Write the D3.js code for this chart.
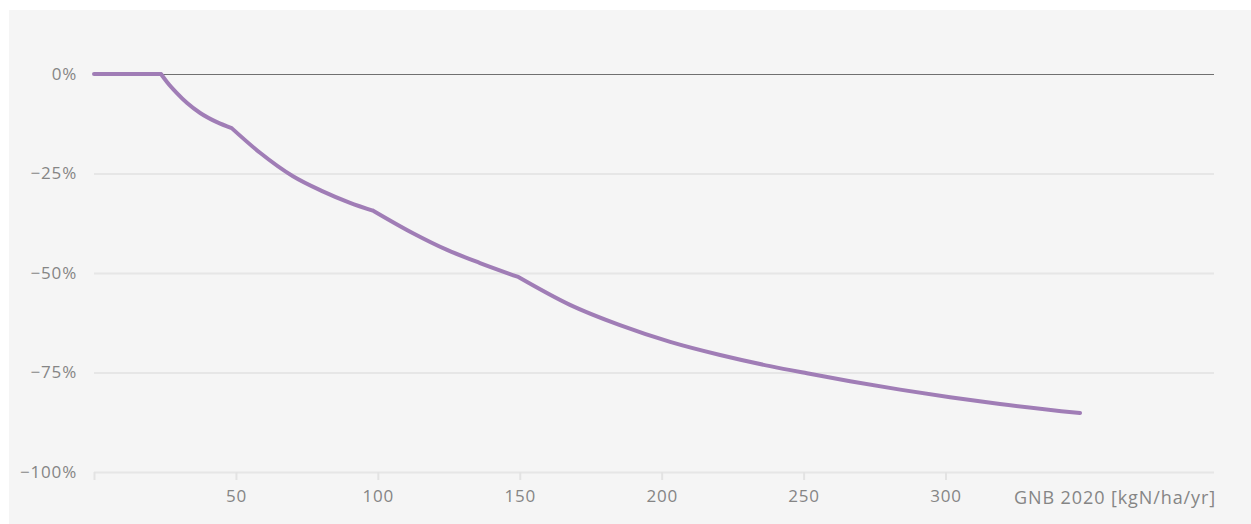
<!DOCTYPE html>
<html>
<head>
<meta charset="utf-8">
<script src="https://cdn.jsdelivr.net/npm/d3@7"></script>
<style>
  body { margin: 0; background: #fff; }
  svg { display: block; }
</style>
</head>
<body>
<svg id="chart"></svg>
<script>
// values (GNB 2020 in kgN/ha/yr, change as fraction)
const gnb = [0, 23.6, 25.7, 29.2, 32.8, 37.4, 43.3, 48.5, 58.5, 70.1, 80, 90, 98.5,
  112.4, 124.4, 136.0, 149.5, 167.7, 185.3, 203.0, 220.6, 238.2, 251.2,
  266.4, 284.0, 301.6, 319.2, 347.4];
const change = [0, 0, -0.020, -0.048, -0.073, -0.098, -0.121, -0.136, -0.198, -0.257, -0.293, -0.323, -0.344,
  -0.400, -0.442, -0.475, -0.51, -0.580, -0.631, -0.673, -0.706, -0.734, -0.752,
  -0.772, -0.793, -0.812, -0.829, -0.852];
// GNB values where the curve bends sharply
const kinks = [23.6, 48.5, 98.5, 149.5];
const yTicks = [0, -0.25, -0.5, -0.75, -1];
const xTicks = [0, 50, 100, 150, 200, 250, 300];
const xTitle = "GNB 2020 [kgN/ha/yr]";

function drawChart(selector, svgWidth, svgHeight) {
    let svg = d3.select(selector)
        .attr("width", svgWidth)
        .attr("height", svgHeight);

    //grey panel behind the chart
    svg.append("rect")
        .attr("x", 9).attr("y", 10)
        .attr("width", svgWidth - 9).attr("height", svgHeight - 10)
        .attr("fill", "#f5f5f5");

    let margin = { top: 74, right: 37, bottom: 52, left: 94 };
    let innerWidth = svgWidth - margin.left - margin.right;
    let innerHeight = svgHeight - margin.top - margin.bottom;

    let xScale = d3.scaleLinear()
        .domain([0, 394.6])
        .range([0, innerWidth]);

    let yScale = d3.scaleLinear()
        .domain([-1, 0])
        .range([innerHeight, 0]);

    let g = svg.append("g")
        .attr("transform", `translate(${margin.left},${margin.top})`);

    let font = "'Open Sans', sans-serif";
    let textColor = "#858585";

    //horizontal grid lines with labels on the left
    let yAxis = g.append("g")
        .call(d3.axisLeft(yScale).tickValues(yTicks)
            .tickFormat(d => (d < 0 ? "\u2212" : "") + Math.abs(Math.round(d * 100)) + "%")
            .tickSize(-innerWidth).tickPadding(17));
    yAxis.select(".domain").remove();
    yAxis.selectAll(".tick line")
        .attr("stroke", d => d === 0 ? "#707070" : "#e6e6e6")
        .attr("stroke-width", d => d === 0 ? 1 : 2);
    yAxis.selectAll(".tick text")
        .attr("fill", textColor)
        .attr("font-size", "17px")
        .attr("letter-spacing", "0.8px")
        .attr("font-family", font);

    //bottom axis
    let xAxis = g.append("g")
        .attr("transform", `translate(0,${innerHeight})`)
        .call(d3.axisBottom(xScale).tickValues(xTicks)
            .tickFormat(d => d === 0 ? "" : d)
            .tickSize(8).tickPadding(10));
    xAxis.select(".domain").remove();
    xAxis.selectAll(".tick line")
        .attr("stroke", "#e3e3e3")
        .attr("stroke-width", 2);
    xAxis.selectAll(".tick text")
        .attr("fill", textColor)
        .attr("font-size", "17px")
        .attr("letter-spacing", "0.8px")
        .attr("font-family", font);

    //axis title
    g.append("text")
        .attr("x", innerWidth + 2)
        .attr("y", innerHeight + 32)
        .attr("text-anchor", "end")
        .attr("fill", textColor)
        .attr("font-size", "18px")
        .attr("letter-spacing", "0.9px")
        .attr("font-family", font)
        .text(xTitle);

    //the line, smoothed between the kinks
    let points = gnb.map((x, i) => [x, change[i]]);
    let bounds = [0, ...kinks, Infinity];
    let segments = [];
    for (let k = 0; k < bounds.length - 1; k++) {
        segments.push(points.filter(p => p[0] >= bounds[k] && p[0] <= bounds[k + 1]));
    }

    let line = d3.line()
        .x(d => xScale(d[0]))
        .y(d => yScale(d[1]))
        .curve(d3.curveMonotoneX);

    g.append("path")
        .attr("d", segments.map(s => line(s)).join(""))
        .attr("fill", "none")
        .attr("stroke", "#a07db6")
        .attr("stroke-width", 4)
        .attr("stroke-linecap", "round")
        .attr("stroke-linejoin", "round");
}

drawChart("#chart", 1251, 524);
</script>
</body>
</html>
